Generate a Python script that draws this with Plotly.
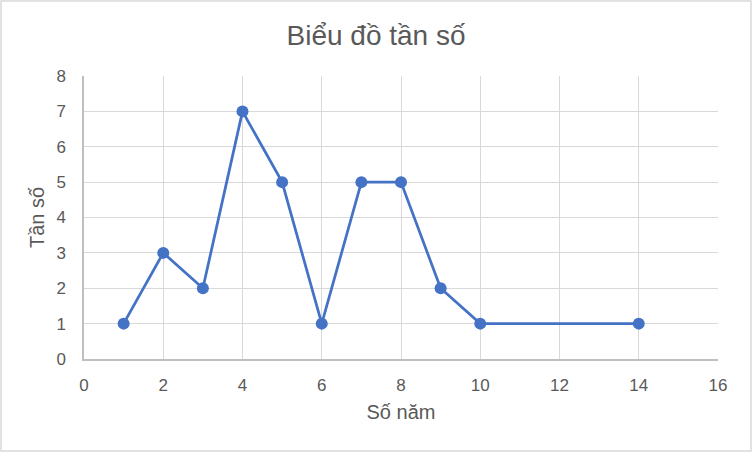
import plotly.graph_objects as go

so_nam = [1, 2, 3, 4, 5, 6, 7, 8, 9, 10, 14]
tan_so = [1, 3, 2, 7, 5, 1, 5, 5, 2, 1, 1]

W, H = 752, 452
L, R, T, B = 84, 34, 76, 93
pw, ph = W - L - R, H - T - B

FONT = "Liberation Sans"
GREY_TXT = "#595959"

fig = go.Figure()
fig.add_trace(go.Scatter(
    x=so_nam, y=tan_so, mode="lines+markers",
    line=dict(color="#4472C4", width=2.75),
    marker=dict(color="#4472C4", size=12),
    showlegend=False,
))

fig.update_layout(
    width=W, height=H,
    margin=dict(l=L, r=R, t=T, b=B),
    paper_bgcolor="white", plot_bgcolor="white",
    font=dict(family=FONT, color=GREY_TXT),
    title=dict(text="Biểu đồ tần số", x=0.5, xanchor="center",
               y=1 - 35 / H, yanchor="middle",
               font=dict(size=28, color=GREY_TXT, family=FONT)),
    xaxis=dict(range=[0, 16], dtick=2, tick0=0,
               showgrid=True, gridcolor="#d9d9d9", gridwidth=1,
               zeroline=False, showline=True, linecolor="#bfbfbf", linewidth=1.5,
               ticks="", ticklabelstandoff=10,
               tickfont=dict(size=17, color=GREY_TXT),
               title=dict(text="Số năm", font=dict(size=20, color=GREY_TXT), standoff=11)),
    yaxis=dict(range=[0, 8], dtick=1, tick0=0,
               showgrid=True, gridcolor="#d9d9d9", gridwidth=1,
               zeroline=False, showline=True, linecolor="#bfbfbf", linewidth=1.5,
               ticks="", ticklabelstandoff=13,
               tickfont=dict(size=17, color=GREY_TXT),
               title=dict(text="Tần số", font=dict(size=20, color=GREY_TXT), standoff=6)),
)

fig.add_shape(type="rect", xref="paper", yref="paper",
              x0=(1 - L) / pw, x1=(W - 1 - L) / pw,
              y0=(T + ph - (H - 1)) / ph, y1=(T + ph - 1) / ph,
              line=dict(color="#d9d9d9", width=1.5), fillcolor="rgba(0,0,0,0)", layer="below")

fig.write_html("out.html")
